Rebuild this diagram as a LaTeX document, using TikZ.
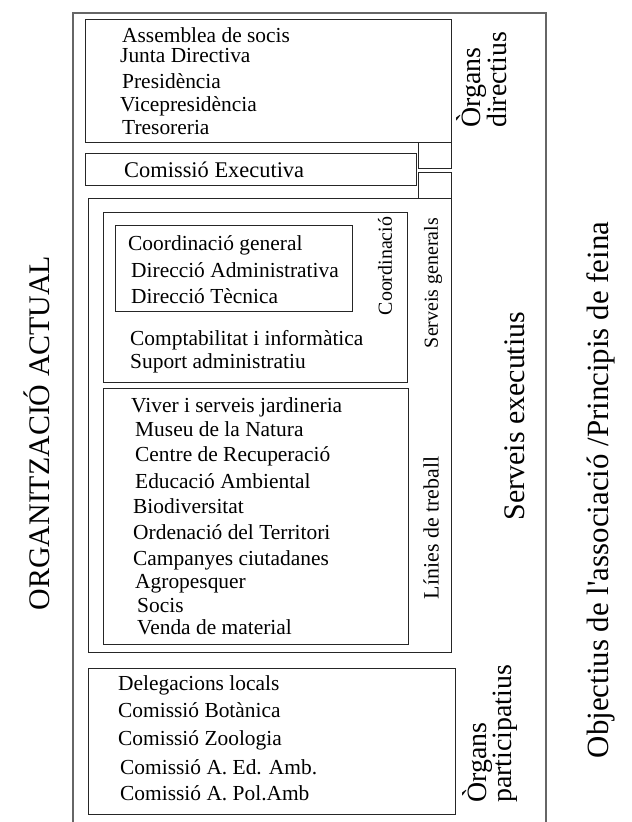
\documentclass[tikz,border=0pt]{standalone}
\usepackage{fontspec}
\setmainfont{Liberation Serif}
\newcommand{\straightapos}{{\XeTeXglyph\XeTeXcharglyph"27\relax}}
\begin{document}
\begin{tikzpicture}[x=1bp,y=-1bp,
  box/.style={draw=black!85,line width=0.8bp},
  item/.style={anchor=base west,inner sep=0pt,font=\fontsize{21.5}{22}\selectfont},
  vlab/.style={rotate=90,inner sep=0pt,align=left},
  big/.style={font=\fontsize{30}{30}\selectfont},
  organ/.style={font=\fontsize{28}{26}\selectfont},
  mid/.style={font=\fontsize{20}{20}\selectfont}]
\useasboundingbox (0,0) rectangle (632,822);
% outer frame
\draw[draw=black!60,line width=1.3bp] (73,823) -- (73,13) -- (546,13) -- (546,823);
% boxes
\draw[box] (85,19) rectangle (451,142);
\draw[box] (85,153) rectangle (416,185);
\draw[box] (418,142) rectangle (451,168);
\draw[box] (418,172) rectangle (451,198);
\draw[box] (88,198) rectangle (451,652);
\draw[box] (103,212) rectangle (407,382);
\draw[box] (115,225) rectangle (352,311);
\draw[box] (103,388) rectangle (408,644);
\draw[box] (88,668) rectangle (455,814);
% top list
\node[item] (a1) at (122,43) {Assemblea de socis};
\node[item] (a2) at (120,63) {Junta Directiva};
\node[item] (a3) at (122,88) {Presidència};
\node[item] (a4) at (120,111) {Vicepresidència};
\node[item] (a5) at (122,134) {Tresoreria};
\node[item,font=\fontsize{22.5}{22}\selectfont] (ce) at (124,177) {Comissió Executiva};
% serveis generals
\node[item] (c1) at (128,250) {Coordinació general};
\node[item] (c2) at (131,277) {Direcció Administrativa};
\node[item] (c3) at (131,303) {Direcció Tècnica};
\node[item] (s1) at (130,345) {Comptabilitat i informàtica};
\node[item] (s2) at (130,368) {Suport administratiu};
% linies de treball
\node[item] (l1) at (131,412) {Viver i serveis jardineria};
\node[item] (l2) at (135,436) {Museu de la Natura};
\node[item] (l3) at (135,461) {Centre de Recuperació};
\node[item] (l4) at (135,488) {Educació Ambiental};
\node[item] (l5) at (133,513) {Biodiversitat};
\node[item] (l6) at (133,539) {Ordenació del Territori};
\node[item] (l7) at (133,565) {Campanyes ciutadanes};
\node[item] (l8) at (135,588) {Agropesquer};
\node[item] (l9) at (137,612) {Socis};
\node[item] (l10) at (137,634) {Venda de material};
% organs participatius
\node[item] (p1) at (118,690) {Delegacions locals};
\node[item] (p2) at (118,717) {Comissió Botànica};
\node[item] (p3) at (118,745) {Comissió Zoologia};
\node[item] (p4) at (120,774) {Comissió A. Ed. Amb.};
\node[item] (p5) at (120,800) {Comissió A. Pol.Amb};
% vertical labels
\node[vlab,organ,anchor=west] (od) at (482,128) {Òrgans\\directius};
\node[vlab,organ,anchor=west] (op) at (490,803) {Òrgans\\participatius};
\node[vlab,big] (se) at (515,416) {Serveis executius};
\node[vlab,mid] (sg) at (433,283) {Serveis generals};
\node[vlab,mid] (co) at (385,266) {Coordinació};
\node[vlab,font=\fontsize{22}{22}\selectfont] (lt) at (431,528) {Línies de treball};
\node[vlab,big] (oa) at (37,433) {ORGANITZACIÓ ACTUAL};
\node[vlab,font=\fontsize{31}{31}\selectfont] (ob) at (601,490) {Objectius de l\straightapos associació /Principis de feina};
\end{tikzpicture}
\end{document}
